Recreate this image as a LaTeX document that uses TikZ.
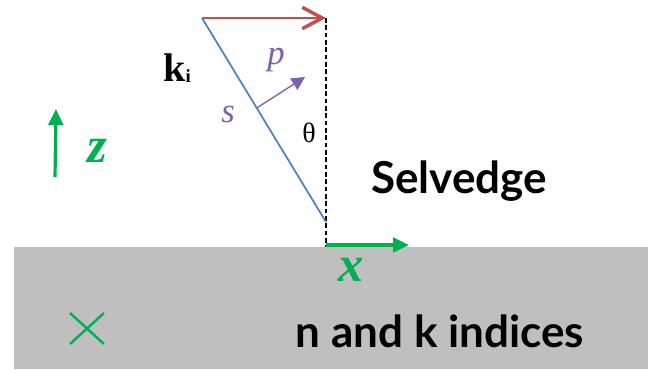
\documentclass[tikz,border=0pt]{standalone}
\usepackage{fontspec}
\setmainfont{Liberation Serif}
\newfontfamily\labelfont{Lato}
\usetikzlibrary{arrows.meta}
\definecolor{grgreen}{HTML}{00B050}
\definecolor{redarr}{HTML}{C0504D}
\definecolor{bluel}{HTML}{4F81BD}
\definecolor{purp}{HTML}{7F60A8}
\definecolor{slab}{HTML}{BFBFBF}
\tikzset{
  bigtext/.style={font=\labelfont\bfseries\fontsize{33}{33}\selectfont, inner sep=0pt},
  axislabel/.style={text=grgreen, font=\bfseries\itshape\fontsize{38}{38}\selectfont, inner sep=0pt},
  pollabel/.style={text=purp, font=\itshape\fontsize{26}{26}\selectfont, inner sep=0pt},
  axisarrow/.style={draw=grgreen, line width=2.4pt, -{Triangle[length=12pt,width=11pt]}},
}
\begin{document}
\begin{tikzpicture}[x=0.75pt,y=-0.75pt]
\useasboundingbox (0,0) rectangle (648,369);
\fill[slab] (14,247) rectangle (648,369);
% coordinates
\coordinate (A) at (202,18);
\coordinate (B) at (326,18);
\coordinate (C) at (326,222);
\coordinate (D) at (326,247);
\coordinate (P0) at (256.7,108);
\coordinate (P1) at (305,77);
\coordinate (Z0) at (55,177);
\coordinate (Z1) at (56,109);
\coordinate (X0) at (326,245);
\coordinate (X1) at (409,245);
% lines
\draw[black, line width=0.8pt, dash pattern=on 3.5pt off 2pt] (B) -- (D);
\draw[redarr, line width=1.6pt, -{Straight Barb[length=15pt,width=16pt,line width=2.6pt]}] (A) -- (B);
\draw[bluel, line width=1.3pt] (A) -- (C);
\draw[purp, line width=1pt, -{Triangle[length=10pt,width=10pt]}] (P0) -- (P1);
\draw[axisarrow] (Z0) -- (Z1);
\draw[axisarrow] (X0) -- (X1);
\draw[grgreen, line width=1.8pt] (70,313) -- (104,344) (70,344) -- (104,313);
% labels
\node[inner sep=0pt, font=\bfseries\fontsize{30}{30}\selectfont] (ki) at (177,68) {k\raisebox{-1pt}{\fontsize{14}{14}\selectfont i}};
\node[pollabel] (p) at (276,60) {p};
\node[pollabel] (s) at (228,114) {s};
\node[inner sep=0pt, font=\fontsize{21}{21}\selectfont] (th) at (309,133) {θ};
\node[axislabel] (z) at (97,151) {z};
\node[axislabel] (x) at (351,270) {x};
\node[bigtext] (sel) at (459,181) {Selvedge};
\node[bigtext] (nk) at (440,331) {n and k indices};
\end{tikzpicture}
\end{document}
